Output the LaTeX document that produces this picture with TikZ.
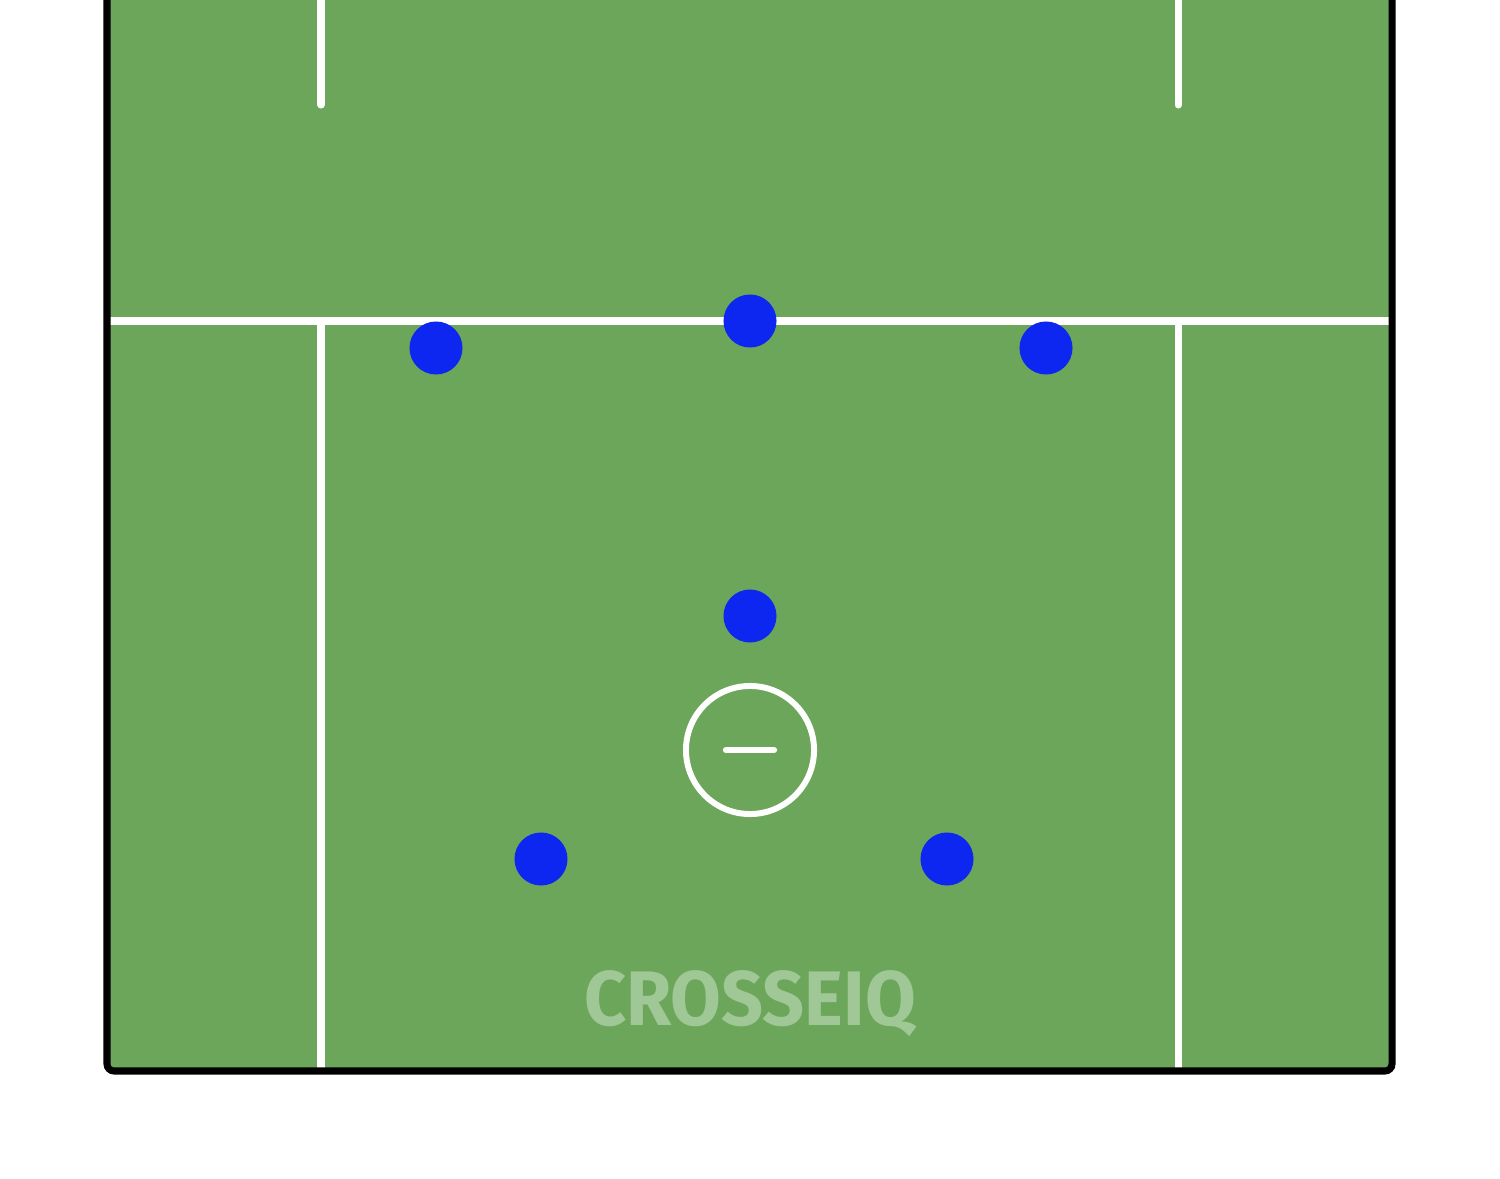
\documentclass[tikz,border=0pt]{standalone}
\usepackage{fontspec}
\newfontfamily\brandfont{Fira Sans}
\definecolor{turf}{RGB}{108,166,90}
\definecolor{playerblue}{RGB}{13,38,240}
\definecolor{marktext}{RGB}{160,200,150}
\tikzset{
  fieldline/.style={white,line width=2pt,line cap=round},
  player/.style={circle,fill=playerblue,inner sep=0pt,minimum size=0.53cm},
}
\begin{document}
\begin{tikzpicture}[x=0.01cm,y=-0.01cm]
\useasboundingbox (0,0) rectangle (1500,1179);
\clip (0,0) rectangle (1500,1179);
%turf
\fill[turf] (107,-20) rectangle (1392,1071);
%field lines
\draw[fieldline,line cap=butt] (110,321) -- (1389,321);
\draw[fieldline,line cap=butt] (321,321) -- (321,1068);
\draw[fieldline,line cap=butt] (1178,321) -- (1178,1068);
\draw[fieldline] (321,-10) -- (321,105);
\draw[fieldline] (1178,-10) -- (1178,105);
%goal crease
\node (crease) at (750,750) [circle,draw=white,line width=1.7pt,minimum size=1.28cm,inner sep=0pt] {};
\draw[fieldline,line width=1.8pt] (726,750) -- (774,750);
%watermark
\node (brand) at (750,1025) [anchor=base,xscale=0.95,text=marktext,font=\brandfont\bfseries\fontsize{22}{24}\selectfont] {CROSSEIQ};
%boundary
\draw[black,line width=2pt,rounded corners=2pt] (107,-20) -- (107,1071) -- (1392,1071) -- (1392,-20);
%players
\node (p1) at (436,348) [player] {};
\node (p2) at (750,321) [player] {};
\node (p3) at (1046,348) [player] {};
\node (p4) at (750,616) [player] {};
\node (p5) at (541,859) [player] {};
\node (p6) at (947,859) [player] {};
\end{tikzpicture}
\end{document}
